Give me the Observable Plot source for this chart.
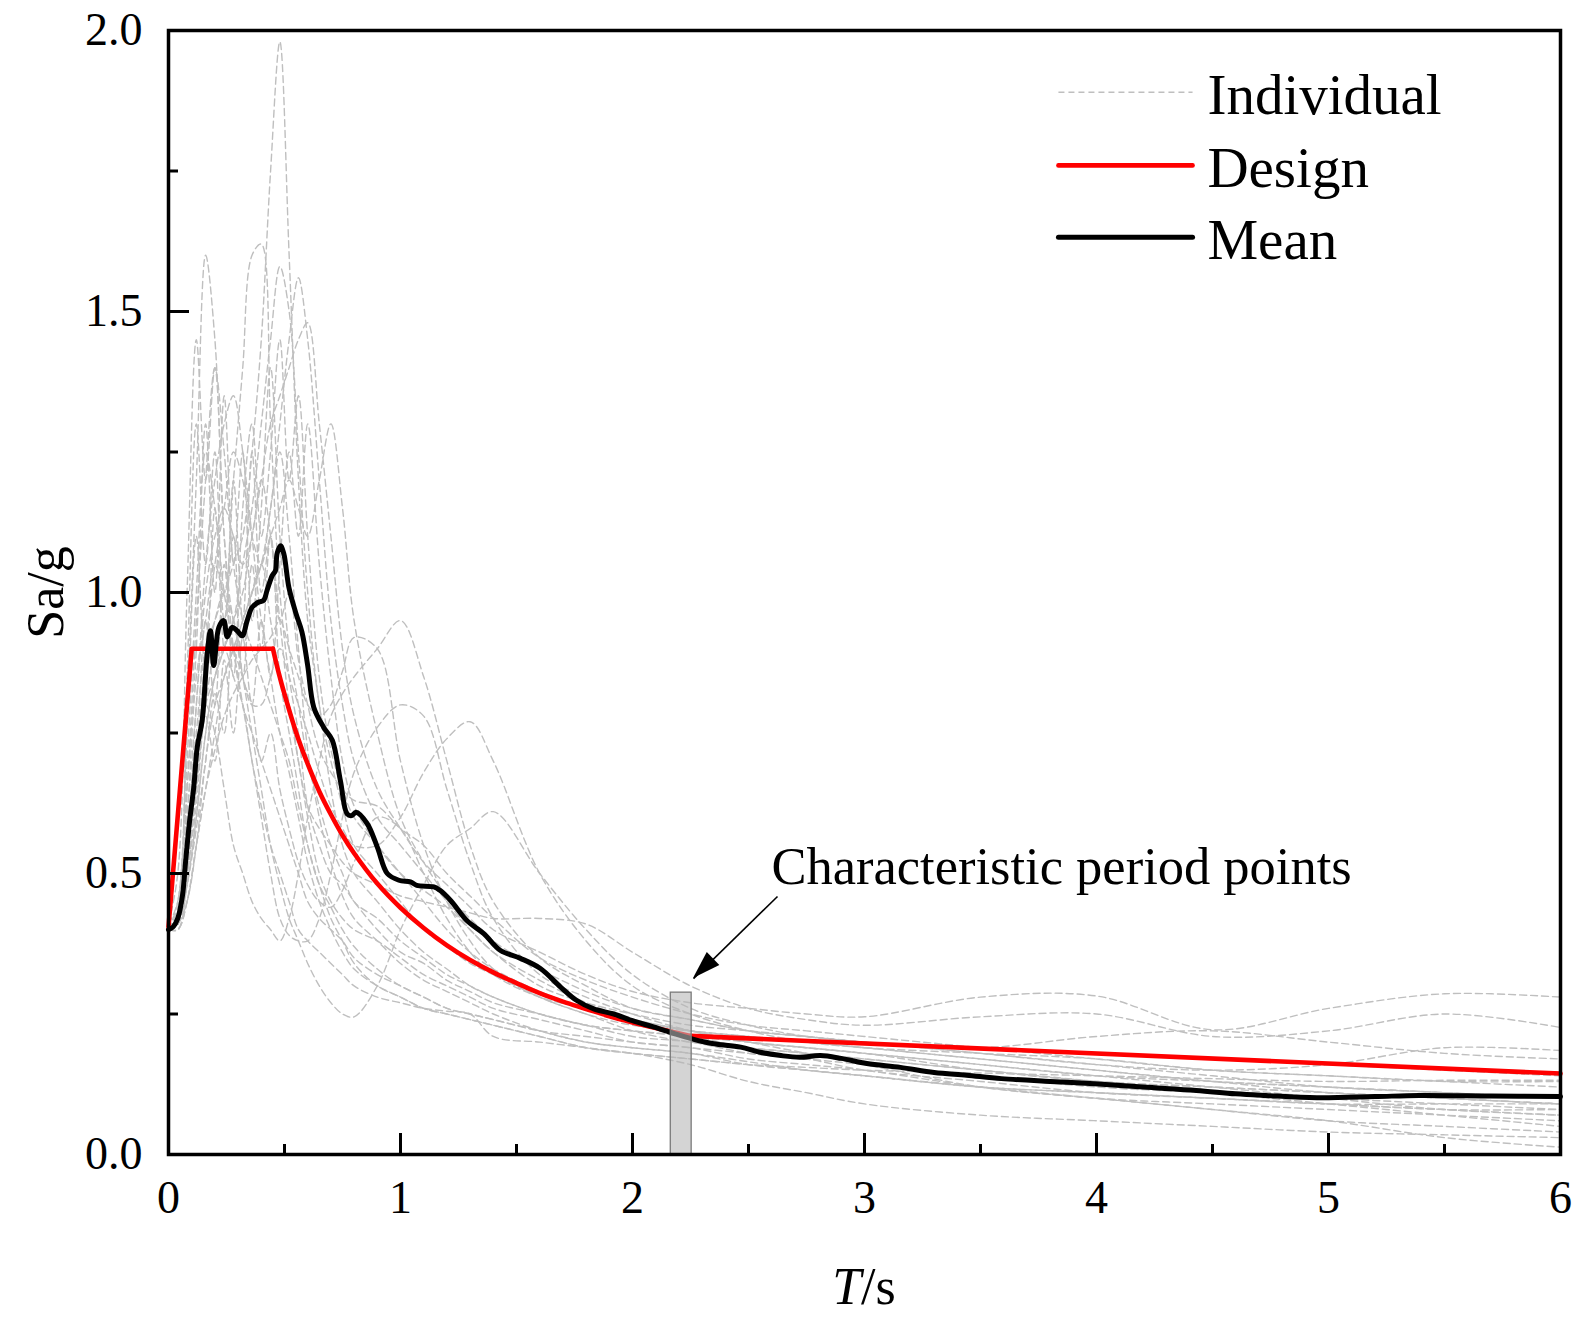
<!DOCTYPE html>
<html>
<head>
<meta charset="utf-8">
<script src="https://cdn.jsdelivr.net/npm/d3@7"></script>
<script src="https://cdn.jsdelivr.net/npm/@observablehq/plot@0.6"></script>
<style>
  html, body { margin: 0; padding: 0; background: #fff; }
  svg { display: block; }
</style>
</head>
<body>
<div id="chart"></div>
<script>
// ---------------- DATA ----------------
// Common period grid (s) for the individual records
const periods = [0, 0.04, 0.08, 0.12, 0.16, 0.2, 0.24, 0.28, 0.32, 0.36, 0.4, 0.44, 0.48, 0.52, 0.56, 0.6,
  0.65, 0.7, 0.75, 0.8, 0.9, 1.0, 1.1, 1.2, 1.3, 1.4, 1.6, 1.8, 2.0, 2.25, 2.5, 2.75, 3.0, 3.5, 4.0, 4.5, 5.0, 5.5, 6.0];

// Individual record spectra Sa/g at the periods above
const rec01 = [0.40,0.42,0.55,0.75,0.90,0.95,1.00,1.05,1.10,1.25,1.45,1.75,1.98,1.60,1.20,0.95,0.80,0.65,0.55,0.50,0.45,0.40,0.36,0.33,0.30,0.28,0.25,0.23,0.21,0.20,0.18,0.17,0.15,0.13,0.11,0.10,0.09,0.08,0.08];
const rec02 = [0.41,0.45,0.80,1.20,1.60,1.45,1.10,0.95,0.90,1.00,1.05,0.95,0.85,0.80,0.70,0.60,0.50,0.45,0.42,0.40,0.38,0.35,0.32,0.30,0.28,0.26,0.24,0.22,0.20,0.19,0.17,0.16,0.15,0.12,0.10,0.09,0.08,0.07,0.06];
const rec03 = [0.40,0.42,0.60,0.85,0.95,1.05,1.00,1.20,1.40,1.60,1.62,1.30,1.00,0.85,0.75,0.62,0.55,0.50,0.48,0.45,0.40,0.36,0.34,0.31,0.29,0.27,0.25,0.23,0.22,0.21,0.20,0.19,0.18,0.15,0.13,0.12,0.11,0.10,0.09];
const rec04 = [0.40,0.41,0.50,0.65,0.80,0.85,0.90,0.95,1.05,1.15,1.30,1.45,1.58,1.50,1.25,1.00,0.80,0.70,0.62,0.55,0.50,0.45,0.40,0.37,0.34,0.32,0.28,0.25,0.23,0.22,0.21,0.20,0.19,0.17,0.15,0.13,0.12,0.11,0.10];
const rec05 = [0.40,0.41,0.45,0.55,0.70,0.80,0.85,0.90,0.95,1.00,1.05,1.15,1.30,1.45,1.56,1.45,1.20,0.95,0.80,0.70,0.60,0.55,0.50,0.45,0.40,0.36,0.30,0.27,0.25,0.23,0.22,0.21,0.20,0.18,0.16,0.14,0.12,0.11,0.10];
const rec06 = [0.40,0.40,0.48,0.60,0.75,0.85,0.90,0.95,1.00,1.10,1.20,1.30,1.35,1.40,1.45,1.48,1.30,1.10,0.90,0.78,0.65,0.58,0.52,0.48,0.44,0.40,0.36,0.32,0.29,0.27,0.26,0.25,0.245,0.28,0.282,0.222,0.26,0.286,0.28];
const rec07 = [0.41,0.50,1.00,1.45,1.20,1.40,1.10,0.90,0.80,0.75,0.70,0.65,0.60,0.55,0.50,0.45,0.42,0.40,0.38,0.35,0.32,0.30,0.28,0.26,0.25,0.24,0.22,0.21,0.20,0.19,0.18,0.17,0.16,0.14,0.12,0.11,0.10,0.09,0.08];
const rec08 = [0.40,0.42,0.65,0.95,1.20,1.40,1.25,1.05,0.95,0.90,0.85,0.80,0.75,0.70,0.62,0.55,0.48,0.42,0.38,0.34,0.30,0.28,0.26,0.25,0.24,0.23,0.21,0.19,0.18,0.17,0.16,0.15,0.14,0.12,0.10,0.08,0.06,0.05,0.04];
const rec09 = [0.40,0.40,0.45,0.55,0.65,0.75,0.85,0.90,0.95,1.00,1.05,1.10,1.15,1.20,1.15,1.10,1.20,1.30,1.15,0.95,0.75,0.60,0.52,0.46,0.42,0.38,0.33,0.29,0.26,0.24,0.22,0.21,0.20,0.19,0.18,0.17,0.16,0.15,0.14];
const rec10 = [0.40,0.42,0.55,0.70,0.80,0.75,0.65,0.55,0.50,0.45,0.42,0.40,0.38,0.42,0.50,0.60,0.70,0.78,0.82,0.85,0.90,0.95,0.85,0.70,0.55,0.45,0.35,0.30,0.26,0.24,0.22,0.21,0.20,0.19,0.21,0.22,0.20,0.18,0.17];
const rec11 = [0.40,0.40,0.45,0.55,0.65,0.72,0.78,0.82,0.85,0.88,0.90,0.92,0.95,0.90,0.85,0.80,0.78,0.80,0.86,0.92,0.90,0.70,0.55,0.45,0.38,0.33,0.28,0.25,0.22,0.20,0.19,0.18,0.17,0.15,0.13,0.11,0.09,0.07,0.05];
const rec12 = [0.40,0.41,0.50,0.65,0.80,0.90,0.95,0.90,0.85,0.80,0.80,0.85,0.90,0.85,0.80,0.75,0.68,0.62,0.58,0.55,0.55,0.60,0.68,0.74,0.77,0.70,0.50,0.38,0.30,0.25,0.22,0.20,0.19,0.18,0.17,0.15,0.14,0.13,0.13];
const rec13 = [0.40,0.41,0.52,0.70,0.85,0.95,1.00,0.95,0.85,0.75,0.65,0.55,0.48,0.42,0.38,0.34,0.30,0.27,0.25,0.245,0.30,0.40,0.48,0.55,0.58,0.61,0.50,0.40,0.32,0.26,0.23,0.21,0.20,0.18,0.16,0.15,0.16,0.19,0.185];
const rec14 = [0.40,0.42,0.60,0.80,1.00,1.10,1.15,1.10,1.05,1.10,1.20,1.10,0.95,0.80,0.70,0.62,0.58,0.55,0.52,0.50,0.48,0.46,0.45,0.44,0.43,0.42,0.42,0.41,0.36,0.30,0.26,0.24,0.23,0.245,0.25,0.21,0.22,0.25,0.226];
const rec15 = [0.40,0.41,0.48,0.60,0.75,0.85,0.90,0.85,0.80,0.70,0.62,0.55,0.50,0.45,0.40,0.38,0.36,0.34,0.32,0.30,0.28,0.27,0.26,0.255,0.25,0.21,0.20,0.19,0.18,0.16,0.13,0.11,0.09,0.07,0.06,0.05,0.04,0.035,0.03];
const rec16 = [0.40,0.42,0.70,1.00,1.25,1.15,1.00,0.90,0.80,0.70,0.60,0.50,0.42,0.39,0.38,0.38,0.42,0.50,0.60,0.68,0.76,0.80,0.78,0.65,0.52,0.42,0.32,0.28,0.25,0.22,0.20,0.18,0.16,0.12,0.10,0.08,0.06,0.03,0.013];
const rec17 = [0.40,0.41,0.55,0.80,1.05,1.20,1.30,1.35,1.25,1.10,0.95,0.85,0.75,0.68,0.60,0.52,0.45,0.40,0.36,0.33,0.30,0.28,0.26,0.25,0.24,0.23,0.21,0.19,0.18,0.17,0.16,0.155,0.15,0.145,0.14,0.135,0.13,0.132,0.132];
const rec18 = [0.40,0.41,0.50,0.68,0.90,1.05,1.15,1.25,1.20,1.10,1.05,1.15,1.25,1.10,0.90,0.72,0.60,0.52,0.46,0.42,0.38,0.34,0.31,0.29,0.27,0.25,0.22,0.20,0.19,0.18,0.165,0.15,0.14,0.12,0.11,0.10,0.09,0.09,0.09];
const rec19 = [0.40,0.45,0.75,1.10,0.85,1.15,0.90,1.20,0.95,1.25,1.00,1.10,0.85,0.75,0.65,0.55,0.48,0.44,0.40,0.37,0.33,0.30,0.28,0.26,0.25,0.24,0.22,0.20,0.19,0.18,0.16,0.15,0.14,0.12,0.11,0.10,0.09,0.08,0.07];
const rec20 = [0.40,0.43,0.65,0.90,1.30,1.00,1.35,1.05,1.25,0.95,1.15,1.40,1.10,0.90,0.80,0.70,0.62,0.55,0.50,0.45,0.42,0.38,0.35,0.32,0.30,0.28,0.25,0.23,0.22,0.21,0.19,0.18,0.17,0.15,0.13,0.12,0.11,0.10,0.09];
const rec21 = [0.40,0.41,0.55,0.70,0.95,0.80,1.05,0.85,1.15,1.30,1.10,1.25,1.45,1.20,1.35,1.10,0.85,0.72,0.65,0.60,0.55,0.50,0.45,0.40,0.36,0.33,0.29,0.26,0.24,0.22,0.20,0.19,0.18,0.16,0.14,0.13,0.12,0.11,0.10];
const rec22 = [0.40,0.42,0.50,0.62,0.78,0.70,0.88,0.75,0.92,0.80,0.95,0.85,1.05,1.25,1.10,1.30,1.05,0.85,0.70,0.62,0.55,0.50,0.47,0.44,0.40,0.36,0.31,0.27,0.24,0.22,0.21,0.20,0.19,0.17,0.15,0.13,0.11,0.10,0.09];
const rec23 = [0.40,0.44,0.85,1.30,1.05,1.25,0.95,1.10,0.85,0.80,0.70,0.75,0.65,0.58,0.52,0.48,0.45,0.44,0.47,0.52,0.60,0.58,0.50,0.42,0.36,0.32,0.28,0.26,0.24,0.22,0.20,0.19,0.18,0.16,0.14,0.12,0.10,0.08,0.07];
const rec24 = [0.40,0.41,0.48,0.58,0.70,0.82,0.75,0.95,0.85,1.05,0.90,1.10,0.95,1.00,0.88,0.80,0.72,0.68,0.65,0.63,0.62,0.58,0.55,0.50,0.46,0.42,0.35,0.31,0.28,0.25,0.23,0.22,0.21,0.19,0.17,0.15,0.14,0.13,0.12];
const individualRecords = [rec01, rec02, rec03, rec04, rec05, rec06, rec07, rec08, rec09, rec10, rec11, rec12,
  rec13, rec14, rec15, rec16, rec17, rec18, rec19, rec20, rec21, rec22, rec23, rec24];

// Mean spectrum
const meanT  = [0, 0.02, 0.04, 0.06, 0.073, 0.09, 0.109, 0.124, 0.145, 0.167, 0.181, 0.195, 0.217, 0.238, 0.253, 0.274, 0.296, 0.318, 0.339, 0.361, 0.389, 0.41, 0.425, 0.447, 0.461, 0.468, 0.483, 0.497, 0.519, 0.55, 0.575, 0.6, 0.626, 0.669, 0.706, 0.741, 0.77, 0.79, 0.808, 0.856, 0.9, 0.943, 0.993, 1.043, 1.07, 1.144, 1.17, 1.216, 1.287, 1.359, 1.431, 1.517, 1.603, 1.69, 1.76, 1.833, 1.92, 2.0, 2.09, 2.18, 2.28, 2.35, 2.466, 2.55, 2.64, 2.72, 2.81, 2.9, 3.01, 3.155, 3.3, 3.44, 3.59, 3.8, 3.99, 4.2, 4.43, 4.6, 4.73, 4.95, 5.2, 5.39, 5.7, 6.0];
const meanSa = [0.40, 0.405, 0.42, 0.46, 0.518, 0.59, 0.654, 0.725, 0.772, 0.891, 0.932, 0.87, 0.938, 0.95, 0.921, 0.938, 0.932, 0.923, 0.95, 0.974, 0.983, 0.986, 1.004, 1.03, 1.039, 1.069, 1.083, 1.069, 1.009, 0.962, 0.93, 0.87, 0.796, 0.76, 0.737, 0.665, 0.606, 0.603, 0.609, 0.589, 0.547, 0.50, 0.488, 0.485, 0.479, 0.476, 0.47, 0.452, 0.416, 0.393, 0.363, 0.349, 0.331, 0.298, 0.274, 0.259, 0.25, 0.238, 0.227, 0.215, 0.203, 0.197, 0.191, 0.182, 0.176, 0.173, 0.176, 0.171, 0.162, 0.155, 0.146, 0.141, 0.135, 0.13, 0.126, 0.12, 0.114, 0.108, 0.105, 0.101, 0.103, 0.105, 0.104, 0.103];

// Design (code) spectrum
const designT  = [0, 0.1, 0.45, 0.475, 0.5, 0.55, 0.6, 0.65, 0.7, 0.75, 0.8, 0.9, 1.0, 1.1, 1.2, 1.3, 1.4, 1.5, 1.6, 1.7, 1.8, 1.9, 2.0, 2.1, 2.25, 6.0];
const designSa = [0.405, 0.9, 0.9, 0.857, 0.819, 0.751, 0.695, 0.646, 0.605, 0.568, 0.536, 0.482, 0.439, 0.403, 0.372, 0.346, 0.324, 0.305, 0.287, 0.272, 0.259, 0.246, 0.235, 0.225, 0.211, 0.144];

// Characteristic period marker and annotation
const charBand  = {T1: 2.165, T2: 2.255, top: 0.288};
const charArrow = {T1: 2.625, Sa1: 0.459, T2: 2.263, Sa2: 0.313};
const charLabel = {T: 2.599, Sa: 0.512, text: "Characteristic period points"};

// Axis ticks
const xMajor = [0, 1, 2, 3, 4, 5, 6];
const xMinor = [0.5, 1.5, 2.5, 3.5, 4.5, 5.5];
const yMajor = [0, 0.5, 1.0, 1.5, 2.0];
const yMinor = [0.25, 0.75, 1.25, 1.75];

// Legend
const legendLabels = ["Individual", "Design", "Mean"];

// ---------------- LAYOUT ----------------
const W = 1590, H = 1328;
const mL = 168, mR = 30, mT = 30, mB = 174;
const frameW = W - mL - mR, frameH = H - mT - mB;
const majorLen = 21, minorLen = 10;
const FONT = "'Liberation Serif', 'Times New Roman', Times, serif";
const legendPos = {x1: 3.836, x2: 4.414, xText: 4.478, ys: [1.890, 1.760, 1.632]};
const GRAY = "#bfbfbf", RED = "#ff0000", BLACK = "#000000";
const redWidth = 4.6, meanWidth = 5;

// ---------------- TABLES ----------------
const indiv = individualRecords.flatMap((vals, i) =>
  periods.slice(0, vals.length).map((T, j) => ({rec: i, T, Sa: vals[j]})));
const meanData = meanT.map((T, i) => ({T, Sa: meanSa[i]}));
const design = designT.map((T, i) => ({T, Sa: designSa[i]}));
const designFlat = design.filter(d => d.T <= 0.45);
const designDecay = design.filter(d => d.T >= 0.45 && d.T <= 2.25);
const designTail = design.filter(d => d.T >= 2.25);
const legendData = legendLabels.map((label, i) => ({label, y: legendPos.ys[i], i}));

const chart = Plot.plot({
  width: W, height: H,
  marginLeft: mL, marginRight: mR, marginTop: mT, marginBottom: mB,
  x: {domain: [0, 6], label: null},
  y: {domain: [0, 2], label: null},
  style: {fontFamily: FONT, background: "#fff", color: "#000"},
  marks: [
    Plot.line(indiv, {x: "T", y: "Sa", z: "rec", stroke: GRAY, strokeWidth: 1.4,
      strokeDasharray: "7,4", curve: "catmull-rom", clip: true}),
    Plot.line(designFlat, {x: "T", y: "Sa", stroke: RED, strokeWidth: redWidth, strokeLinejoin: "round"}),
    Plot.line(designDecay, {x: "T", y: "Sa", stroke: RED, strokeWidth: redWidth, curve: "catmull-rom"}),
    Plot.line(designTail, {x: "T", y: "Sa", stroke: RED, strokeWidth: redWidth}),
    Plot.line(meanData, {x: "T", y: "Sa", stroke: BLACK, strokeWidth: meanWidth, curve: "catmull-rom", strokeLinejoin: "round"}),
    Plot.rect([charBand], {x1: "T1", x2: "T2", y1: () => 0, y2: "top",
      fill: "#b8b8b8", fillOpacity: 0.6, stroke: "#7a7a7a", strokeWidth: 1.3}),
    Plot.link([charArrow], {x1: "T1", y1: "Sa1", x2: "T2", y2: "Sa2", stroke: BLACK, strokeWidth: 1.6}),
    Plot.text([charLabel], {x: "T", y: "Sa", text: "text", textAnchor: "start", lineAnchor: "middle",
      fontSize: 52.5, fill: BLACK}),
    // legend
    Plot.link(legendData.filter(d => d.i === 0), {x1: () => legendPos.x1, x2: () => legendPos.x2, y1: "y", y2: "y",
      stroke: GRAY, strokeWidth: 1.6, strokeDasharray: "6,4"}),
    Plot.link(legendData.filter(d => d.i === 1), {x1: () => legendPos.x1, x2: () => legendPos.x2, y1: "y", y2: "y",
      stroke: RED, strokeWidth: redWidth, strokeLinecap: "round"}),
    Plot.link(legendData.filter(d => d.i === 2), {x1: () => legendPos.x1, x2: () => legendPos.x2, y1: "y", y2: "y",
      stroke: BLACK, strokeWidth: meanWidth, strokeLinecap: "round"}),
    Plot.text(legendData, {x: () => legendPos.xText, y: "y", text: "label", textAnchor: "start",
      lineAnchor: "middle", fontSize: 57, dy: 3, fill: BLACK}),
    // inward ticks
    Plot.tickX(xMajor, {x: d => d, insetTop: frameH - majorLen, stroke: BLACK, strokeWidth: 3}),
    Plot.tickX(xMinor, {x: d => d, insetTop: frameH - minorLen, stroke: BLACK, strokeWidth: 3}),
    Plot.tickY(yMajor, {y: d => d, insetRight: frameW - majorLen, stroke: BLACK, strokeWidth: 3}),
    Plot.tickY(yMinor, {y: d => d, insetRight: frameW - minorLen, stroke: BLACK, strokeWidth: 3}),
    Plot.axisX(xMajor, {tickSize: 0, tickPadding: 26, fontSize: 46, label: null, tickFormat: d => String(d)}),
    Plot.axisY(yMajor, {tickSize: 0, tickPadding: 26, fontSize: 46, label: null, tickFormat: d3.format(".1f")}),
    Plot.text(["Sa/g"], {frameAnchor: "left", dx: -106, rotate: -90, fontSize: 52,
      textAnchor: "middle", lineAnchor: "bottom", fill: BLACK}),
    Plot.frame({stroke: BLACK, strokeWidth: 3.5})
  ]
});

// Filled arrow head and the x-axis title (mixed italic), placed through the plot's scales
const sx = chart.scale("x"), sy = chart.scale("y");
const svg = d3.select(chart);
{
  const x0 = sx.apply(charArrow.T1), y0 = sy.apply(charArrow.Sa1);
  const x1 = sx.apply(charArrow.T2), y1 = sy.apply(charArrow.Sa2);
  const len = Math.hypot(x1 - x0, y1 - y0);
  const ux = (x1 - x0) / len, uy = (y1 - y0) / len;
  const hl = 28, hw = 9;
  const bx = x1 - ux * hl, by = y1 - uy * hl;
  svg.append("path")
    .attr("d", `M${x1},${y1}L${bx - uy * hw},${by + ux * hw}L${bx + uy * hw},${by - ux * hw}Z`)
    .attr("fill", BLACK);
}
{
  const t = svg.append("text")
    .attr("x", sx.apply(3))
    .attr("y", sy.apply(0) + 150)
    .attr("text-anchor", "middle")
    .attr("font-family", FONT)
    .attr("font-size", 52)
    .attr("fill", BLACK);
  t.append("tspan").attr("font-style", "italic").text("T");
  t.append("tspan").text("/s");
}

document.getElementById("chart").appendChild(chart);
</script>
</body>
</html>
